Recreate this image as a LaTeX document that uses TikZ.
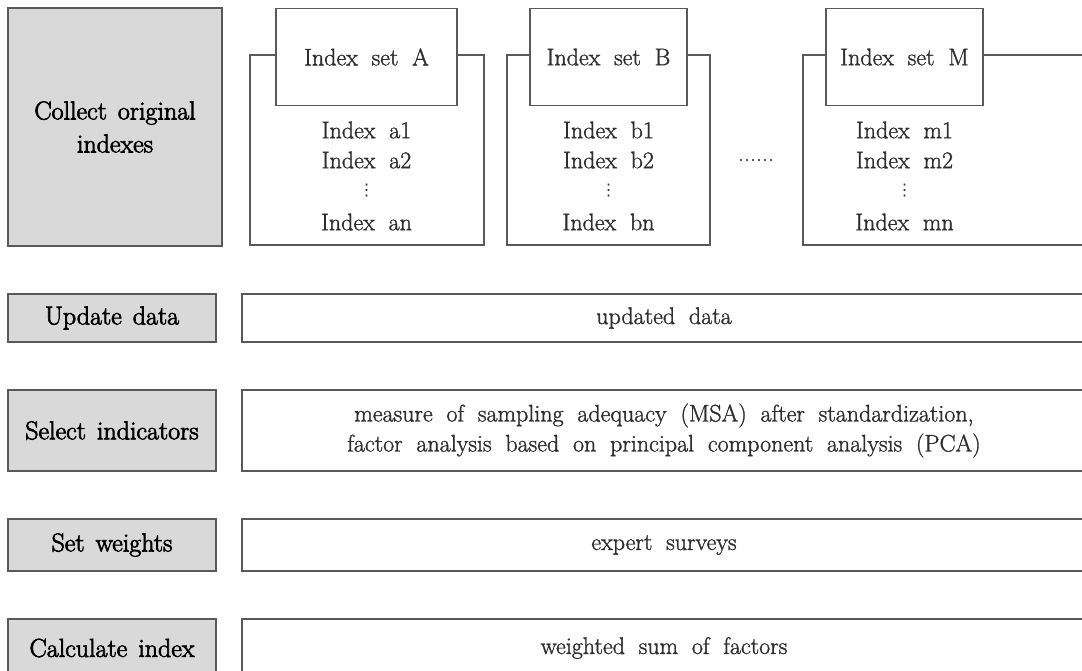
\documentclass[tikz,border=0pt]{standalone}
\usepackage{fontspec}
\usepackage{tikz}

\newfontfamily\stepfont{Latin Modern Roman}[FakeBold=2.6, WordSpace=1.4]
\newfontfamily\infofont{Latin Modern Roman}[FakeBold=1.3, WordSpace=1.9]
\newfontfamily\symfont{DejaVu Sans}

\definecolor{boxgray}{HTML}{D9D9D9}
\definecolor{linegray}{HTML}{595959}
\definecolor{txtgray}{HTML}{2E2E2E}

\tikzset{
  boxsize/.style 2 args={minimum width=#1*0.75pt, minimum height=#2*0.75pt},
  stepbox/.style={draw=linegray, fill=boxgray, line width=1pt, inner sep=0pt,
    align=center, text=black, font=\stepfont\fontsize{19.5}{24.75}\selectfont},
  infobox/.style={draw=linegray, fill=white, line width=1pt, inner sep=0pt,
    align=center, text=txtgray, font=\infofont\fontsize{18}{22.5}\selectfont},
  itemtext/.style={inner sep=0pt, text=txtgray, font=\infofont\fontsize{18}{22.5}\selectfont},
}

\begin{document}
\begin{tikzpicture}[x=0.75pt, y=-0.75pt]
  \useasboundingbox (0,0) rectangle (1082,671);

  % First step and its index sets
  \node[stepbox, boxsize={214}{238}] (collect) at (115,127) {Collect original\\indexes};

  \foreach \s/\L/\ox/\ow/\hx/\hw in {a/A/367/234/366.5/181, b/B/608.5/203/608.5/157, m/M/954.5/303/904.5/157} {
    \node[infobox, boxsize={\ow}{190}] (set\s) at (\ox,150) {};
    \node[infobox, boxsize={\hw}{97}] (head\s) at (\hx,57) {Index set \L};
    % Indexes of the set
    \node[itemtext] (\s1) at (\hx,130) {Index \s1};
    \node[itemtext] (\s2) at (\hx,160) {Index \s2};
    \node[itemtext, font=\symfont\fontsize{12}{12}\selectfont] (\s dots) at (\hx,191) {⋮};
    \node[itemtext] (\s n) at (\hx,222) {Index \s n};
  }
  \node[itemtext, anchor=base] (more) at (756,161) {......};

  % Remaining steps
  \foreach \n/\y/\h/\step/\info in {update/318/48/Update data/updated data,
      select/430.5/81/Select indicators/{measure of sampling adequacy (MSA) after standardization,\\factor analysis based on principal component analysis (PCA)},
      weights/545/52/Set weights/expert surveys,
      calc/648/58/Calculate index/weighted sum of factors} {
    \node[stepbox, boxsize={208}{\h}] (\n) at (112,\y) {\step};
    \node[infobox, boxsize={844}{\h}] (\n info) at (664,\y) {\info};
  }
\end{tikzpicture}
\end{document}
